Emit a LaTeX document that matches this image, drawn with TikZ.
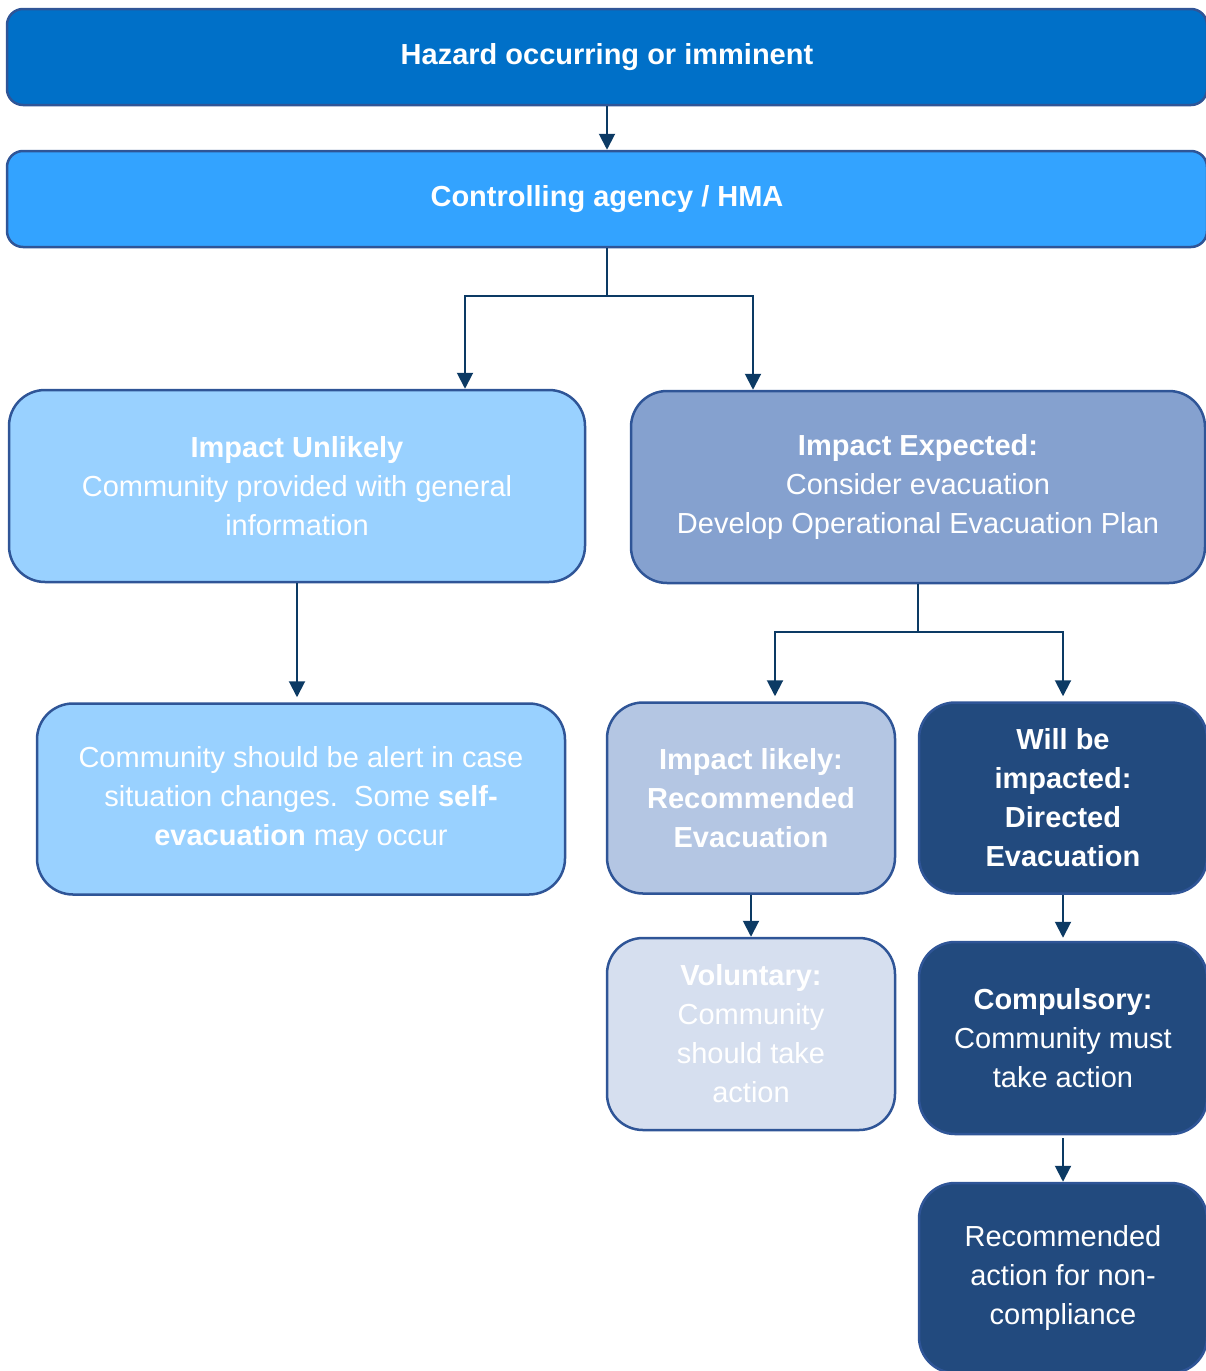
\documentclass[tikz,border=0pt]{standalone}
\usepackage{fontspec}
\setmainfont{Liberation Sans}
\usetikzlibrary{arrows.meta}
\definecolor{hazblue}{RGB}{0,112,200}
\definecolor{ctlblue}{RGB}{51,163,255}
\definecolor{paleblue}{RGB}{153,209,255}
\definecolor{greyblue}{RGB}{133,161,207}
\definecolor{likelyblue}{RGB}{180,198,227}
\definecolor{volblue}{RGB}{214,223,239}
\definecolor{navy}{RGB}{34,74,126}
\definecolor{edgeblue}{RGB}{47,85,151}
\definecolor{arrowblue}{RGB}{12,58,100}

\begin{document}
\begin{tikzpicture}[x=1pt,y=-1pt]
\tikzstyle{box}=[draw=edgeblue, line width=2.5pt, rectangle, rounded corners=36pt, inner sep=0pt, align=center, text=white, font=\fontsize{29}{39}\selectfont]
\tikzstyle{bar}=[box, rounded corners=16pt, minimum width=1200pt, minimum height=96pt, font=\bfseries\fontsize{29}{39}\selectfont]
\tikzstyle{arr}=[draw=arrowblue, line width=2pt, -{Triangle[length=16pt,width=16pt]}]
\useasboundingbox (0,0) rectangle (1205,1371);

% top bars
\node[bar, fill=hazblue] (haz) at (607,57) {Hazard occurring or imminent};
\node[bar, fill=ctlblue] (ctl) at (607,199) {Controlling agency / HMA};

% second row
\node[box, fill=paleblue, minimum width=576pt, minimum height=192pt] (unl) at (297,486)
  {\textbf{Impact Unlikely}\\Community provided with general\\information};
\node[box, fill=greyblue, minimum width=574pt, minimum height=192pt] (exp) at (918,487)
  {\textbf{Impact Expected:}\\Consider evacuation\\Develop Operational Evacuation Plan};

% third row
\node[box, fill=paleblue, minimum width=528pt, minimum height=191pt] (alert) at (301,799)
  {Community should be alert in case\\situation changes.\ \ Some \textbf{self-}\\\textbf{evacuation} may occur};
\node[box, fill=likelyblue, minimum width=288pt, minimum height=191pt, font=\bfseries\fontsize{29}{39}\selectfont] (likely) at (751,798)
  {Impact likely:\\Recommended\\Evacuation};
\node[box, fill=navy, minimum width=288pt, minimum height=191pt, font=\bfseries\fontsize{29}{39}\selectfont] (willbe) at (1063,798)
  {Will be\\impacted:\\Directed\\Evacuation};

% fourth row
\node[box, fill=volblue, minimum width=288pt, minimum height=192pt] (vol) at (751,1034)
  {\textbf{Voluntary:}\\Community\\should take\\action};
\node[box, fill=navy, minimum width=288pt, minimum height=192pt] (comp) at (1063,1038)
  {\textbf{Compulsory:}\\Community must\\take action};
\node[box, fill=navy, minimum width=288pt, minimum height=190pt] (rec) at (1063,1278)
  {Recommended\\action for non-\\compliance};

% connectors
\draw[arr] (haz) -- (ctl);
\draw[arr] (ctl.south) -- ++(0,48) -| ([xshift=168pt]unl.north);
\draw[arr] (ctl.south) -- ++(0,48) -| ([xshift=-165pt]exp.north);
\draw[arr, shorten >=5pt] (unl) -- (unl |- alert.north);
\draw[arr, shorten >=5pt] (exp.south) -- ++(0,48) -| ([xshift=24pt]likely.north);
\draw[arr, shorten >=5pt] (exp.south) -- ++(0,48) -| (willbe.north);
\draw[arr] (likely) -- (vol);
\draw[arr, shorten >=3pt] (willbe) -- (comp);
\draw[arr, shorten <=3pt] (comp) -- (rec);

\end{tikzpicture}
\end{document}
